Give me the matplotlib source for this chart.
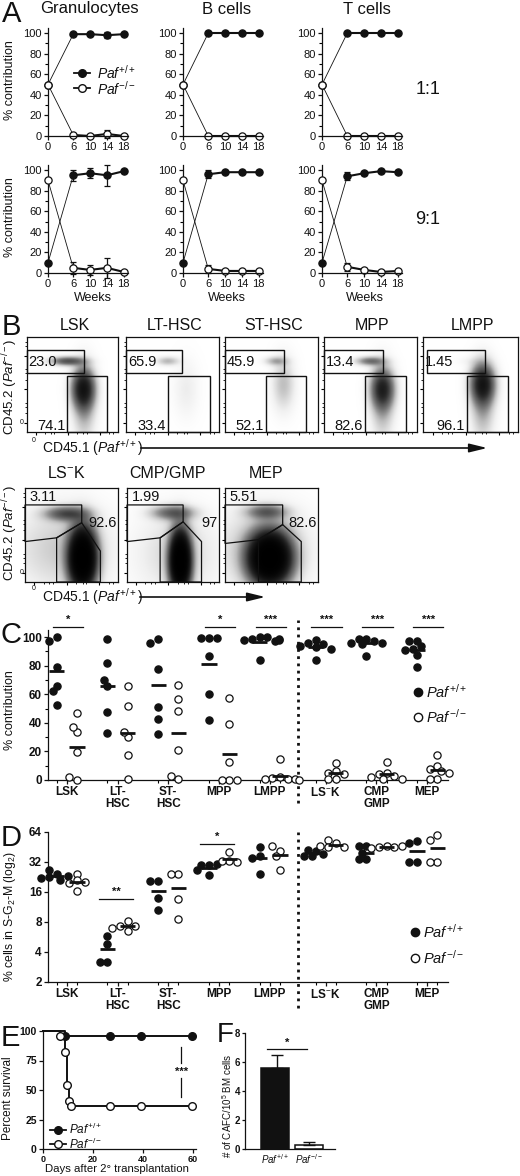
import matplotlib
matplotlib.use("Agg")
import matplotlib.pyplot as plt
import numpy as np
from matplotlib.lines import Line2D
from matplotlib.patches import Rectangle, Polygon, FancyArrowPatch

# -- Constants ---------------------------------------------------------------

W, H, DPI = 520, 1176, 100
BLACK = "#111111"

plt.rcParams["font.family"] = ["Liberation Sans", "DejaVu Sans"]
plt.rcParams["mathtext.fontset"] = "custom"
plt.rcParams["mathtext.rm"] = "Liberation Sans"
plt.rcParams["mathtext.it"] = "Liberation Sans:italic"
plt.rcParams["mathtext.bf"] = "Liberation Sans:bold"
plt.rcParams["axes.linewidth"] = 0.9
plt.rcParams["axes.edgecolor"] = BLACK

WT = r"$\mathit{Paf}^{+/+}$"
KO = r"$\mathit{Paf}^{-/-}$"

# -- Data --------------------------------------------------------------------

# A: % contribution over time, 1:1 and 9:1 competitive transplants
weeks = [0, 6, 10, 14, 18]
lineages = ["Granulocytes", "B cells", "T cells"]
ratios = ["1:1", "9:1"]
a11_wt = [[50, 99, 99, 98, 99], [50, 100, 100, 100, 100], [50, 100, 100, 100, 100]]
a11_wt_err = [[0, 1, 1, 3, 1], [0, 0.5, 0.5, 0.5, 0.5], [0, 0.5, 0.5, 0.5, 0.5]]
a11_ko = [[50, 1, 0, 2, 0], [50, 0, 0, 0, 0], [50, 0, 0, 0, 0]]
a11_ko_err = [[0, 1, 0.5, 4, 0.5], [0, 0.5, 0.5, 0.5, 0.5], [0, 0.5, 0.5, 0.5, 0.5]]
a91_wt = [[10, 95, 97, 95, 99], [10, 96, 98, 98, 98], [10, 94, 97, 99, 98]]
a91_wt_err = [[0, 5.5, 5, 10, 1], [0, 4, 1, 1, 1], [0, 4, 1.5, 1, 1]]
a91_ko = [[90, 5, 3, 5, 1], [90, 4, 2, 2, 2], [90, 6, 3, 1, 2]]
a91_ko_err = [[0, 6, 5, 10, 1], [0, 4, 1, 1, 1], [0, 4, 2, 1, 1]]

# B: flow gate percentages
b1_names = ["LSK", "LT-HSC", "ST-HSC", "MPP", "LMPP"]
b1_top = ["23.0", "65.9", "45.9", "13.4", "1.45"]
b1_bot = ["74.1", "33.4", "52.1", "82.6", "96.1"]
b2_names = [r"LS$^{-}$K", "CMP/GMP", "MEP"]
b2_top = ["3.11", "1.99", "5.51"]
b2_side = ["92.6", "97", "82.6"]

# C: % contribution per population
cats = ["LSK", "LT-\nHSC", "ST-\nHSC", "MPP", "LMPP", r"LS$^{-}$K", "CMP\nGMP", "MEP"]
c_wt = [
    [100, 97.4, 78.8, 65.7, 62.2, 52.2],
    [98.6, 82, 65.7, 70, 47.3, 33.1],
    [99, 96, 78, 50.8, 42.4, 32.2],
    [99.5, 99.5, 99.5, 86.7, 60.1, 42],
    [100, 99, 100, 98, 97, 99, 98, 84],
    [98, 96, 95, 94, 93, 92, 84],
    [99, 99, 97, 96, 96, 95, 87],
    [97.5, 97, 94, 91.5, 91, 87.5, 79],
]
c_ko = [
    [46.6, 33.8, 37.3, 19.8, 0, 1.9],
    [65.7, 51.7, 29.8, 33.8, 17.5, 0.7],
    [66.4, 56.6, 48.3, 21, 0.5, 2.8],
    [57.1, 39.2, 12.8, 0, 0, 0],
    [14.5, 2, 1.5, 1, 0.5, 0.5, 0.3],
    [11.6, 6, 5, 4, 0.7, 0.5],
    [12.8, 5, 4.5, 2.5, 2, 1, 0.5],
    [17.5, 10, 8, 6.5, 4.7, 0.7, 0.7],
]
c_stars = ["*", "", "", "*", "***", "***", "***", "***"]

# D: % cells in S-G2-M
d_wt = [
    [24, 22.5, 26.5, 21, 23, 22],
    [5.8, 4.8, 3.2, 3.2],
    [20.5, 20.5, 14, 10.5],
    [29.6, 30, 30.4, 26.7, 23.9],
    [36.5, 35, 45, 24.3],
    [41.5, 42.5, 36.5, 38.5, 36.5],
    [46, 46, 34, 34, 39],
    [51.6, 49.5, 32, 32],
]
d_ko = [
    [24.5, 21, 19.5, 16.3, 20],
    [8.1, 7.3, 7.3, 6.5, 7.0],
    [24, 24.2, 13.7, 8.5],
    [40, 32.5, 32.5, 32],
    [41, 36.5, 46, 26.4],
    [49.5, 53.5, 45, 45, 46],
    [46, 45, 45, 44, 46],
    [59.3, 53.5, 32, 32],
]
d_stars = ["", "**", "", "*", "", "", "", ""]
d_star_level = [0, 13.7, 0, 48.8, 0, 0, 0, 0]

# E: survival after secondary transplantation
e_wt_days = [0, 8.7, 26.7, 39.3, 59.5]
e_wt_surv = [100, 95.5, 95.5, 95.5, 95.5]
e_ko_days = [0, 6.7, 8.7, 9.6, 10.4, 11.3, 26.7, 39.3, 59.5]
e_ko_surv = [100, 95.5, 82, 54.5, 41, 36.4, 36.4, 36.4, 36.4]

# F: CAFC
f_groups = [WT, KO]
f_mean = [5.6, 0.3]
f_err = [0.85, 0.2]

# -- Helpers -----------------------------------------------------------------

fig = plt.figure(figsize=(W / DPI, H / DPI), dpi=DPI)
fig.patch.set_facecolor("white")


def add_ax(l, t, r, b):
    return fig.add_axes([l / W, 1 - b / H, (r - l) / W, (b - t) / H])


def ftext(x, y, s, **kw):
    kw.setdefault("ha", "center")
    kw.setdefault("va", "center")
    kw.setdefault("color", BLACK)
    fig.text(x / W, 1 - y / H, s, **kw)


def style(ax, labelsize=8, bold=False):
    for s in ("top", "right"):
        ax.spines[s].set_visible(False)
    ax.tick_params(direction="out", length=3, width=0.9, labelsize=labelsize,
                   pad=1.5, colors=BLACK)
    ax.tick_params(which="minor", length=2, width=0.8)
    ax.patch.set_alpha(0)
    if bold:
        for lab in ax.get_xticklabels() + ax.get_yticklabels():
            lab.set_fontweight("bold")


def fmarker(x, y, filled, ms=6, line=None):
    if line:
        fig.add_artist(Line2D([line[0] / W, line[1] / W], [1 - y / H] * 2,
                              color=BLACK, lw=1.3))
    fig.add_artist(Line2D([x / W], [1 - y / H], marker="o", ms=ms, ls="none",
                          mfc=BLACK if filled else "white", mec=BLACK, mew=1))


def swarm(vals, to_px, diam):
    placed, offs = [], []
    for v in vals:
        y = to_px(v)
        for k in [0, -1, 1, -2, 2, -3, 3, -4, 4, -5, 5]:
            x = k * diam * 0.55
            if all((x - px) ** 2 + (y - py) ** 2 >= (0.9 * diam) ** 2
                   for px, py in placed):
                break
        placed.append((x, y))
        offs.append(x)
    return offs


# ============================================================================
# A
# ============================================================================

ftext(2, 14, "A", fontsize=21, ha="left")
a_left = [48, 183, 322]
a_rows = [(28, 136), (165, 273)]
a_sets = [(a11_wt, a11_wt_err, a11_ko, a11_ko_err),
          (a91_wt, a91_wt_err, a91_ko, a91_ko_err)]
for r, (top, bot) in enumerate(a_rows):
    wt_all, wte_all, ko_all, koe_all = a_sets[r]
    for c, left in enumerate(a_left):
        ax = add_ax(left, top, left + 80, bot)
        ax.set_xlim(0, 19)
        ax.set_ylim(0, 105)
        ax.set_xticks(weeks)
        ax.set_yticks(range(0, 101, 20))
        ax.set_yticks(range(10, 100, 20), minor=True)
        style(ax, labelsize=8)
        for vals, errs, fc in ((wt_all[c], wte_all[c], BLACK),
                               (ko_all[c], koe_all[c], "white")):
            ax.plot(weeks[:2], vals[:2], color=BLACK, lw=0.6, clip_on=False)
            eb = ax.errorbar(weeks[1:], vals[1:], yerr=errs[1:], color=BLACK,
                             lw=1.5, elinewidth=0.9, capsize=2.5, capthick=0.9,
                             marker="o", ms=5.2, mfc=fc, mec=BLACK, mew=0.9,
                             clip_on=False)
            for a in list(eb.lines[1]) + list(eb.lines[2]):
                a.set_clip_on(False)
            ax.plot(weeks[0], vals[0], "o", ms=5.2, mfc=fc, mec=BLACK,
                    mew=0.9, clip_on=False, zorder=4)
    ftext(428, 90 + r * 130, ratios[r], fontsize=13)
    ftext(10, (top + bot) / 2 - 2, "% contribution", rotation=90, fontsize=9)

for c, x in enumerate([89, 227, 367]):
    ftext(x, 9, lineages[c], fontsize=12)
for x in [93, 227, 365]:
    ftext(x, 298, "Weeks", fontsize=9)

fmarker(82, 73, True, ms=5.5, line=(74, 90))
ftext(97, 73, WT, fontsize=10, ha="left")
fmarker(82, 88, False, ms=5.5, line=(74, 90))
ftext(97, 89, KO, fontsize=10, ha="left")

# ============================================================================
# B
# ============================================================================


def flow_box(l, t, r, b, blobs):
    ax = add_ax(l, t, r, b)
    ax.set_xlim(0, 1)
    ax.set_ylim(0, 1)
    gx, gy = np.meshgrid(np.linspace(0, 1, 160), np.linspace(0, 1, 160))
    dens = np.zeros_like(gx)
    for cx, cy, sx, sy, w in blobs:
        dens += w * np.exp(-((gx - cx) ** 2 / (2 * sx ** 2)
                             + (gy - cy) ** 2 / (2 * sy ** 2)))
    img = 1 - np.exp(-2.5 * dens)
    ax.imshow(img, extent=(0, 1, 0, 1), origin="lower", cmap="Greys",
              vmin=0, vmax=1.0, aspect="auto", interpolation="bilinear")
    ax.set_xticks([0.1, 0.45, 0.8])
    ax.set_yticks([0.1, 0.45, 0.8])
    ax.set_xticks([0.2, 0.26, 0.3, 0.55, 0.62, 0.66, 0.9, 0.95], minor=True)
    ax.set_yticks([0.2, 0.26, 0.3, 0.55, 0.62, 0.66, 0.9, 0.95], minor=True)
    ax.tick_params(direction="out", length=2.5, width=0.8, labelleft=False,
                   labelbottom=False)
    ax.tick_params(which="minor", length=1.5, width=0.6)
    for s in ax.spines.values():
        s.set_linewidth(0.9)
    return ax


ftext(2, 327, "B", fontsize=21, ha="left")
b1_left = [27, 126, 225, 324, 423]
b1_rgt = [118, 219, 318, 417, 518]
b1_up = [(0.0, 0.63), (0.0, 0.60), (0.0, 0.63), (0.0, 0.63), (0.04, 0.65)]
b1_low = [(0.44, 0.88), (0.45, 0.90), (0.44, 0.87), (0.44, 0.88), (0.46, 0.89)]
b1_blobs = [
    [(0.45, 0.74, 0.12, 0.03, 0.55), (0.62, 0.45, 0.08, 0.13, 0.9),
     (0.63, 0.3, 0.08, 0.25, 0.25)],
    [(0.45, 0.74, 0.08, 0.03, 0.2), (0.65, 0.45, 0.09, 0.2, 0.06)],
    [(0.55, 0.74, 0.08, 0.03, 0.22), (0.63, 0.5, 0.08, 0.18, 0.18)],
    [(0.5, 0.74, 0.1, 0.03, 0.4), (0.63, 0.45, 0.08, 0.13, 0.75),
     (0.63, 0.3, 0.08, 0.25, 0.22)],
    [(0.5, 0.74, 0.1, 0.03, 0.03), (0.63, 0.5, 0.08, 0.13, 0.9),
     (0.63, 0.3, 0.08, 0.25, 0.25)],
]
for i in range(5):
    ax = flow_box(b1_left[i], 337, b1_rgt[i], 432, b1_blobs[i])
    ux0, ux1 = b1_up[i]
    lx0, lx1 = b1_low[i]
    ax.add_patch(Rectangle((ux0, 0.62), ux1 - ux0, 0.24, fill=False,
                           ec=BLACK, lw=1, clip_on=False))
    ax.add_patch(Rectangle((lx0, 0.0), lx1 - lx0, 0.59, fill=False,
                           ec=BLACK, lw=1, clip_on=False))
    ax.text(0.02 if i else 0.01, 0.735, b1_top[i], fontsize=10.5, ha="left",
            va="center", color=BLACK)
    ax.text(lx0 - 0.02, 0.06, b1_bot[i], fontsize=10.5, ha="right",
            va="center", color=BLACK)
    ftext((b1_left[i] + b1_rgt[i]) / 2 + 2, 325, b1_names[i], fontsize=11.5)

b2_left = [25, 127, 225]
b2_rgt = [118, 219, 318]
b2_up = [
    [(0, 0.82), (0.61, 0.82), (0.61, 0.63), (0.34, 0.47), (0, 0.43)],
    [(0, 0.82), (0.61, 0.82), (0.61, 0.64), (0.36, 0.47), (0, 0.43)],
    [(0, 0.82), (0.62, 0.82), (0.62, 0.61), (0.36, 0.45), (0, 0.41)],
]
b2_low = [
    [(0.34, 0.47), (0.61, 0.63), (0.81, 0.33), (0.81, 0), (0.34, 0)],
    [(0.36, 0.47), (0.61, 0.64), (0.81, 0.43), (0.81, 0), (0.36, 0)],
    [(0.36, 0.45), (0.62, 0.61), (0.82, 0.43), (0.82, 0), (0.36, 0)],
]
b2_blobs = [
    [(0.45, 0.72, 0.15, 0.05, 0.55), (0.62, 0.25, 0.09, 0.2, 2.5),
     (0.4, 0.35, 0.35, 0.3, 0.15)],
    [(0.5, 0.73, 0.15, 0.05, 0.45), (0.58, 0.22, 0.07, 0.2, 2.5),
     (0.55, 0.3, 0.3, 0.3, 0.12)],
    [(0.45, 0.74, 0.14, 0.05, 0.45), (0.48, 0.25, 0.14, 0.17, 2.5),
     (0.4, 0.35, 0.35, 0.3, 0.15)],
]
for i in range(3):
    ax = flow_box(b2_left[i], 488, b2_rgt[i], 582, b2_blobs[i])
    ax.add_patch(Polygon(b2_up[i], closed=True, fill=False, ec=BLACK, lw=0.9,
                         clip_on=False))
    ax.add_patch(Polygon(b2_low[i], closed=True, fill=False, ec=BLACK, lw=0.9,
                         clip_on=False))
    ax.text(0.05, 0.9, b2_top[i], fontsize=10.5, ha="left", va="center",
            color=BLACK)
    ax.text(0.99, 0.63, b2_side[i], fontsize=10.5, ha="right", va="center",
            color=BLACK)
    ftext((b2_left[i] + b2_rgt[i]) / 2 - 5, 473, b2_names[i], fontsize=11.5)

for yc, ylab, zy in ((387, 448, 422), (533, 597, 572)):
    ftext(10, yc, r"CD45.2 (" + KO + ")", rotation=90, fontsize=9.5)
    ftext(42, ylab, r"CD45.1 (" + WT + ")", fontsize=10, ha="left")
    ftext(22, zy, "0", fontsize=5)
ftext(34, 440, "0", fontsize=5)
ftext(34, 588, "0", fontsize=5)
for x0, x1, y in ((138, 490, 448), (137, 268, 597)):
    fig.add_artist(FancyArrowPatch((x0 / W, 1 - y / H), (x1 / W, 1 - y / H),
                                   transform=fig.transFigure, color=BLACK,
                                   arrowstyle="-|>,head_length=0.9,head_width=0.22",
                                   mutation_scale=12, lw=1.2))

# ============================================================================
# C and D
# ============================================================================

pos = [0, 1, 2, 3, 4, 5.1, 6.1, 7.1]
PX_X = 50.7


def column_scatter(ax, wt, ko, to_px):
    for i, p in enumerate(pos):
        for vals, side, fc in ((wt[i], -0.2, BLACK), (ko[i], 0.2, "white")):
            offs = swarm(vals, to_px, 7.0)
            xs = [p + side + o / PX_X for o in offs]
            ax.plot(xs, vals, "o", ls="none", ms=5.2, mfc=fc, mec=BLACK,
                    mew=0.9, clip_on=False, zorder=3)
            ax.hlines(np.mean(vals), p + side - 0.15, p + side + 0.15,
                      color=BLACK, lw=2, zorder=4)


def cat_axis(ax):
    ax.set_xlim(-0.37, 7.51)
    ax.set_xticks(pos)
    ax.set_xticklabels(cats, linespacing=1.0)
    ax.set_xticks([p + s for p in pos for s in (-0.2, 0.2)], minor=True)
    ax.tick_params(axis="x", which="major", length=0, pad=6)
    ax.tick_params(axis="x", which="minor", length=3)


# C
ftext(1, 635, "C", fontsize=21, ha="left")
ax = add_ax(48, 630, 448, 780)
ax.set_ylim(0, 105)
ax.set_yticks(range(0, 101, 20))
ax.set_yticks(range(10, 100, 10), minor=True)
cat_axis(ax)
style(ax, labelsize=8.5, bold=True)
column_scatter(ax, c_wt, c_ko, lambda v: v * 1.43)
ax.axvline(4.55, ymin=-0.15, ymax=1.07, color=BLACK, ls=(0, (1, 1.6)), lw=2,
           clip_on=False)
for i, s in enumerate(c_stars):
    if s:
        ax.plot([pos[i] - 0.28, pos[i] + 0.32], [107, 107], color=BLACK,
                lw=0.9, clip_on=False)
        ax.text(pos[i] + 0.02, 108.5, s, ha="center", va="bottom",
                fontsize=8, color=BLACK, fontweight="bold", clip_on=False)
ftext(10, 710, "% contribution", rotation=90, fontsize=9)
fmarker(418, 692, True, ms=6)
ftext(426, 692, WT, fontsize=10.5, ha="left")
fmarker(418, 717, False, ms=6)
ftext(426, 717, KO, fontsize=10.5, ha="left")

# D
ftext(1, 838, "D", fontsize=21, ha="left")
ax = add_ax(48, 832, 448, 982)
ax.set_yscale("log", base=2)
ax.set_ylim(2, 64)
ax.set_yticks([2, 4, 8, 16, 32, 64])
ax.set_yticklabels(["2", "4", "8", "16", "32", "64"])
ax.minorticks_off()
cat_axis(ax)
style(ax, labelsize=8.5, bold=True)
column_scatter(ax, d_wt, d_ko, lambda v: np.log2(v) * 30)
ax.axvline(4.55, ymin=-0.17, ymax=1.0, color=BLACK, ls=(0, (1, 1.6)), lw=2,
           clip_on=False)
for i, s in enumerate(d_stars):
    if s:
        ax.plot([pos[i] - 0.37, pos[i] + 0.3], [d_star_level[i]] * 2,
                color=BLACK, lw=0.9, clip_on=False)
        ax.text(pos[i] - 0.03, d_star_level[i] * 1.04, s, ha="center",
                va="bottom", fontsize=8, color=BLACK, fontweight="bold")
ftext(10, 917, r"% cells in S-G$_2$-M (log$_2$)", rotation=90, fontsize=8.8)
fmarker(415, 932, True, ms=6)
ftext(423, 932, WT, fontsize=10.5, ha="left")
fmarker(415, 958, False, ms=6)
ftext(423, 958, KO, fontsize=10.5, ha="left")

# ============================================================================
# E
# ============================================================================

ftext(1, 1038, "E", fontsize=21, ha="left")
ax = add_ax(43, 1031, 196, 1149)
ax.set_xlim(0, 61.2)
ax.set_ylim(0, 100)
ax.set_xticks([0, 20, 40, 60])
ax.set_yticks([0, 25, 50, 75, 100])
style(ax, labelsize=7.5, bold=True)
ax.tick_params(axis="x", labelsize=6.5, pad=1)
for days, surv, fc in ((e_wt_days, e_wt_surv, BLACK),
                       (e_ko_days, e_ko_surv, "white")):
    ax.step(days, surv, where="post", color=BLACK, lw=1.4, clip_on=False)
    ax.plot(days[1:], surv[1:], "o", ls="none", ms=5.5, mfc=fc, mec=BLACK,
            mew=1, clip_on=False, zorder=4)
ax.plot([55.3, 55.3], [72.9, 86.4], color=BLACK, lw=0.9)
ax.plot([55.3, 55.3], [44, 60.2], color=BLACK, lw=0.9)
ax.text(55.6, 65.5, "***", ha="center", va="center", fontsize=8,
        fontweight="bold", color=BLACK)
ftext(8, 1098, "Percent survival", rotation=90, fontsize=8.5)
ftext(117, 1169, "Days after 2° transplantation", fontsize=8.2)
fmarker(58, 1130, True, ms=5.5, line=(50, 66))
ftext(69, 1129, WT, fontsize=8.5, ha="left")
fmarker(58, 1144, False, ms=5.5, line=(50, 66))
ftext(69, 1144, KO, fontsize=8.5, ha="left")

# ============================================================================
# F
# ============================================================================

ftext(217, 1035, "F", fontsize=20, ha="left")
ax = add_ax(245, 1033, 335, 1149)
ax.set_xlim(-0.9, 1.79)
ax.set_ylim(0, 8)
ax.set_yticks([0, 2, 4, 6, 8])
ax.set_xticks([0, 1])
ax.set_xticklabels(f_groups, fontsize=8.5)
style(ax, labelsize=7, bold=True)
ax.tick_params(axis="y", length=2.5, pad=1)
ax.tick_params(axis="x", length=0, pad=2)
ax.bar([0, 1], f_mean, width=0.84, color=[BLACK, "white"], edgecolor=BLACK,
       linewidth=1.1)
ax.errorbar([0.05, 1], f_mean, yerr=[[0, 0], f_err], fmt="none", ecolor=BLACK,
            elinewidth=1, capsize=4, capthick=1)
ax.plot([-0.24, 0.96], [6.9, 6.9], color=BLACK, lw=0.9)
ax.text(0.36, 7.0, "*", ha="center", va="bottom", fontsize=8,
        fontweight="bold", color=BLACK)
ftext(227, 1106, r"# of CAFC/10$^5$ BM cells", rotation=90, fontsize=7)

fig.savefig("out.png", dpi=DPI, facecolor="white")
